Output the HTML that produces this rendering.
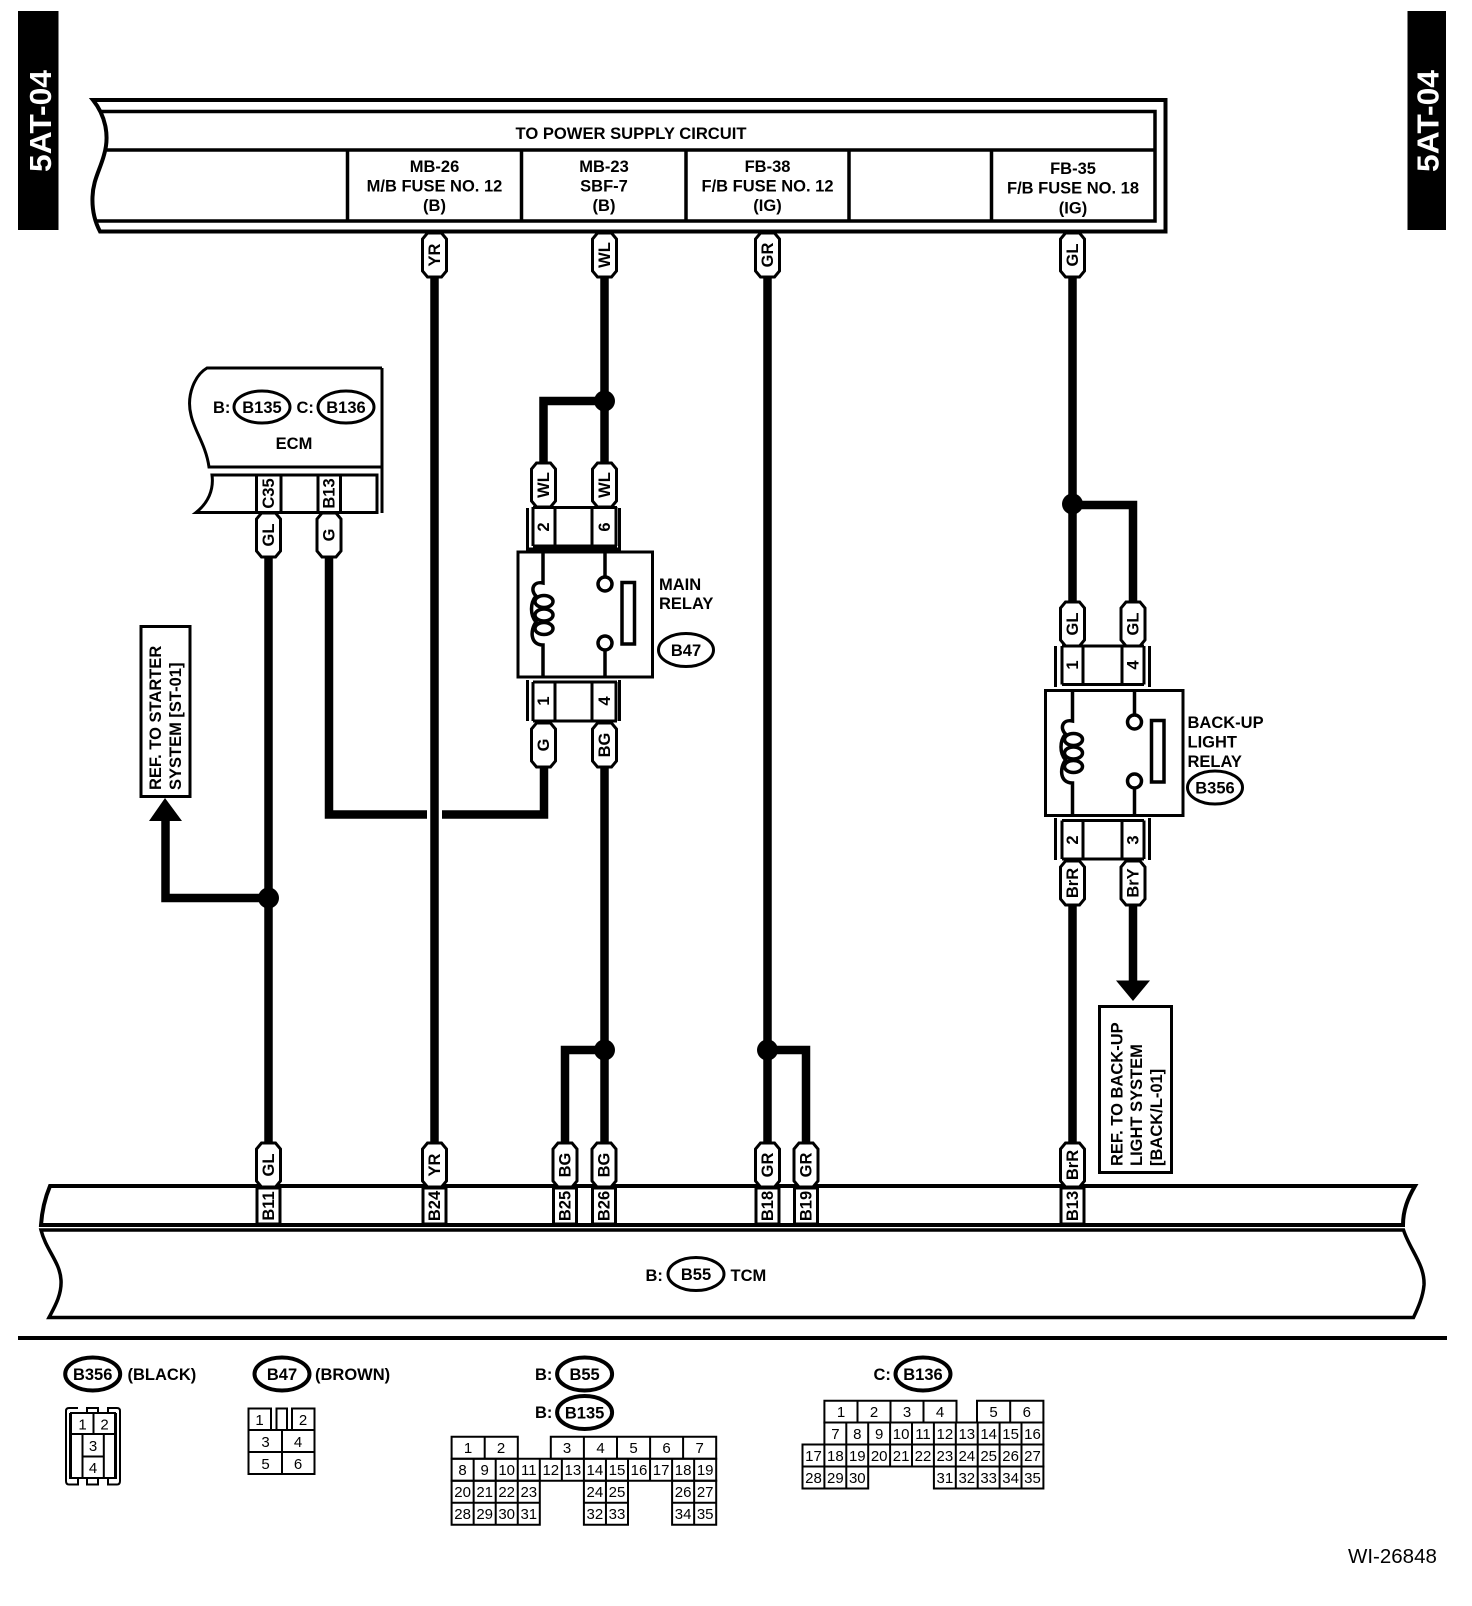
<!DOCTYPE html>
<html><head><meta charset="utf-8">
<style>
html,body{margin:0;padding:0;background:#fff}
svg{display:block}
text{font-family:"Liberation Sans",sans-serif;fill:#000}
.b{font-weight:bold;font-size:16.5px}
.m{text-anchor:middle}
.n{font-size:15px;text-anchor:middle}
.l{fill:none;stroke:#000;stroke-width:3}
.w{fill:none;stroke:#000;stroke-width:8.5}
.g{fill:none;stroke:#000;stroke-width:2}
</style></head><body>
<svg xmlns="http://www.w3.org/2000/svg" width="1472" height="1606" viewBox="0 0 1472 1606">
<defs>
<path id="p" d="M-7,0H7L12,6V38L7,44H-7L-12,38V6Z" fill="#fff" stroke="#000" stroke-width="3"/>
<g id="coil" fill="none" stroke="#000" stroke-width="3.5">
<path d="M543,553V583C533,581 530,590 536,596C530,603 530,615 536,622C530,630 530,645 543,645V678"/>
<ellipse cx="544" cy="601.5" rx="9" ry="6" fill="#fff"/><ellipse cx="544" cy="615" rx="9" ry="6" fill="#fff"/><ellipse cx="544" cy="628.5" rx="9" ry="6" fill="#fff"/>
<path d="M605,553V576M605,651V678"/>
<ellipse cx="605" cy="584" rx="7" ry="7"/><ellipse cx="605" cy="643" rx="7" ry="7"/>
<rect x="622" y="582.5" width="12.5" height="61.5"/>
</g>
</defs>

<!-- side tabs -->
<rect x="18" y="11" width="40.5" height="219"/>
<text transform="translate(51,172) rotate(-90)" font-size="31" font-weight="bold" textLength="102" lengthAdjust="spacingAndGlyphs" style="fill:#fff">5AT-04</text>
<rect x="1407.5" y="11" width="38.5" height="219"/>
<text transform="translate(1438.5,172) rotate(-90)" font-size="31" font-weight="bold" textLength="102" lengthAdjust="spacingAndGlyphs" style="fill:#fff">5AT-04</text>

<!-- power supply box -->
<path d="M93,100H1165.5V231.5H100C95,222 92,210 92.5,197C93,180 100,170 104,155C110,135 105,115 93,100Z" fill="none" stroke="#000" stroke-width="4"/>
<path d="M101,111.5H1155V221H96M107,150H1155M347.5,150V221M521.5,150V221M686,150V221M849,150V221M991.5,150V221" fill="none" stroke="#000" stroke-width="3.5"/>
<text class="b m" x="631" y="139" textLength="231" lengthAdjust="spacingAndGlyphs">TO POWER SUPPLY CIRCUIT</text>
<text class="b m" x="434.5" y="172">MB-26</text><text class="b m" x="434.5" y="191.5">M/B FUSE NO. 12</text><text class="b m" x="434.5" y="211">(B)</text>
<text class="b m" x="604" y="172">MB-23</text><text class="b m" x="604" y="191.5">SBF-7</text><text class="b m" x="604" y="211">(B)</text>
<text class="b m" x="767.5" y="172">FB-38</text><text class="b m" x="767.5" y="191.5">F/B FUSE NO. 12</text><text class="b m" x="767.5" y="211">(IG)</text>
<text class="b m" x="1073" y="174">FB-35</text><text class="b m" x="1073" y="193.5">F/B FUSE NO. 18</text><text class="b m" x="1073" y="213.5">(IG)</text>

<!-- wires -->
<path class="w" d="M434.5,277V1143M604.5,277V463M604.5,766V1143M604.5,401H543.5V463M767.5,277V1143M767.5,1050H806V1143M565,1143V1050H604.5M1072.5,277V602M1072.5,505H1133V602M1072.5,905V1143M1133,905V982M268.5,557V1143M268.5,898H165.5V820M329,557V814.5H427M442,814.5H544V766"/>
<circle cx="604.5" cy="401" r="10.5"/><circle cx="1072.5" cy="504" r="10.5"/><circle cx="268.5" cy="898" r="10.5"/><circle cx="604.5" cy="1050" r="10.5"/><circle cx="767.5" cy="1050" r="10.5"/>
<path d="M165,798L182,821H149Z"/><path d="M1116,980.5H1150L1133,1001Z"/>

<!-- ECM -->
<path class="l" d="M382,368H207C195,375 186,395 191,415C194,430 206,445 209,467H382M382,368V513"/>
<path class="l" d="M196,512.5H377V475H212C214,490 208,503 196,512.5Z"/>
<path class="l" d="M256.5,475V512M281,475V512M318,475V512M340.5,475V512"/>
<text class="b" x="213" y="413">B:</text><text class="b" x="296.5" y="413">C:</text>
<ellipse class="l" cx="262" cy="407" rx="28" ry="16"/><text class="b m" x="262" y="413">B135</text>
<ellipse class="l" cx="346" cy="407" rx="28" ry="16"/><text class="b m" x="346" y="413">B136</text>
<text class="b m" x="294" y="449">ECM</text>
<text class="b m" transform="translate(268.5,493.5) rotate(-90)" dy="5.5">C35</text>
<text class="b m" transform="translate(329,493.5) rotate(-90)" dy="5.5">B13</text>

<!-- Ref boxes -->
<rect class="l" x="141" y="626.5" width="49" height="170" stroke-width="3.5"/>
<text class="b" transform="translate(161,790) rotate(-90)">REF. TO STARTER</text>
<text class="b" transform="translate(181,790) rotate(-90)">SYSTEM [ST-01]</text>
<rect class="l" x="1099.5" y="1006.5" width="72" height="166"/>
<text class="b" transform="translate(1122.5,1166) rotate(-90)">REF. TO BACK-UP</text>
<text class="b" transform="translate(1142,1166) rotate(-90)">LIGHT SYSTEM</text>
<text class="b" transform="translate(1162,1166) rotate(-90)">[BACK/L-01]</text>

<!-- Main relay -->
<rect class="l" x="518" y="552" width="134.5" height="125" stroke-width="3.5"/>
<use href="#coil"/>
<path class="l" d="M527.5,508V549H619.5V508M533,507.5H617M533,546H617M533,507V546M555,507V546M592,507V546M616,507V546"/>
<path class="l" d="M527.5,680V721M619.5,680V721M533,682H617M533,721H617M533,682V721M555,682V721M592,682V721M616,682V721"/>
<text class="b m" transform="translate(543.5,527) rotate(-90)" dy="5.5">2</text>
<text class="b m" transform="translate(604.5,527) rotate(-90)" dy="5.5">6</text>
<text class="b m" transform="translate(543.5,701) rotate(-90)" dy="5.5">1</text>
<text class="b m" transform="translate(604.5,701) rotate(-90)" dy="5.5">4</text>
<text class="b" x="659" y="590">MAIN</text><text class="b" x="659" y="609">RELAY</text>
<ellipse class="l" cx="686" cy="650" rx="27.5" ry="16.5"/><text class="b m" x="686" y="656">B47</text>

<!-- Back-up relay -->
<rect class="l" x="1045.5" y="690.5" width="137.5" height="125" stroke-width="3"/>
<use href="#coil" x="529.5" y="138"/>
<path class="l" d="M1055.5,646V687M1149.5,646V687M1062,646H1144M1062,684.5H1144M1062,646V684.5M1083,646V684.5M1122,646V684.5M1144,646V684.5"/>
<path class="l" d="M1055.5,818V860M1149.5,818V860M1062,820.5H1144M1062,859H1144M1062,820.5V859M1083,820.5V859M1122,820.5V859M1144,820.5V859"/>
<text class="b m" transform="translate(1072.5,665) rotate(-90)" dy="5.5">1</text>
<text class="b m" transform="translate(1133,665) rotate(-90)" dy="5.5">4</text>
<text class="b m" transform="translate(1072.5,840) rotate(-90)" dy="5.5">2</text>
<text class="b m" transform="translate(1133,840) rotate(-90)" dy="5.5">3</text>
<text class="b" x="1187.5" y="728">BACK-UP</text><text class="b" x="1187.5" y="747.5">LIGHT</text><text class="b" x="1187.5" y="767">RELAY</text>
<ellipse class="l" cx="1215" cy="787.5" rx="27.5" ry="16.5"/><text class="b m" x="1215" y="793.5">B356</text>

<!-- TCM bar -->
<path fill="none" stroke="#000" stroke-width="4" d="M50,1186H1415C1408,1198 1403,1210 1403,1225H41C42,1210 45,1198 50,1186Z"/>
<path fill="none" stroke="#000" stroke-width="3.5" d="M41,1230H1403.5C1410,1250 1425,1265 1424,1285C1423,1297 1418,1308 1413.5,1317.5H49C54,1308 62,1295 61,1280C60,1262 46,1250 41,1230Z"/>
<g fill="#fff" stroke="#000" stroke-width="3">
<rect x="257" y="1188" width="23" height="36"/><rect x="423" y="1188" width="23" height="36"/><rect x="553.5" y="1188" width="23" height="36"/><rect x="592.5" y="1188" width="23" height="36"/><rect x="756" y="1188" width="23" height="36"/><rect x="794.5" y="1188" width="23" height="36"/><rect x="1061" y="1188" width="23" height="36"/>
</g>
<text class="b m" transform="translate(268.5,1206) rotate(-90)" dy="5.5">B11</text>
<text class="b m" transform="translate(434.5,1206) rotate(-90)" dy="5.5">B24</text>
<text class="b m" transform="translate(565,1206) rotate(-90)" dy="5.5">B25</text>
<text class="b m" transform="translate(604,1206) rotate(-90)" dy="5.5">B26</text>
<text class="b m" transform="translate(767.5,1206) rotate(-90)" dy="5.5">B18</text>
<text class="b m" transform="translate(806,1206) rotate(-90)" dy="5.5">B19</text>
<text class="b m" transform="translate(1072.5,1206) rotate(-90)" dy="5.5">B13</text>
<text class="b" x="645.5" y="1281">B:</text>
<ellipse class="l" cx="696" cy="1274" rx="28" ry="16.5"/><text class="b m" x="696" y="1280">B55</text>
<text class="b" x="730.5" y="1281">TCM</text>
<rect x="18" y="1336" width="1429" height="4"/>

<!-- wire pills -->
<use href="#p" x="434.5" y="233"/><use href="#p" x="604.5" y="233"/><use href="#p" x="767.5" y="233"/><use href="#p" x="1072.5" y="233"/>
<use href="#p" x="268.5" y="513"/><use href="#p" x="329" y="513"/>
<use href="#p" x="543.5" y="463"/><use href="#p" x="604.5" y="463"/><use href="#p" x="543.5" y="723"/><use href="#p" x="604.5" y="723"/>
<use href="#p" x="1072.5" y="602"/><use href="#p" x="1133" y="602"/><use href="#p" x="1072.5" y="861"/><use href="#p" x="1133" y="861"/>
<use href="#p" x="268.5" y="1143"/><use href="#p" x="434.5" y="1143"/><use href="#p" x="565" y="1143"/><use href="#p" x="604" y="1143"/><use href="#p" x="767.5" y="1143"/><use href="#p" x="806" y="1143"/><use href="#p" x="1072.5" y="1143"/>
<g class="b">
<text class="b m" transform="translate(434.5,255) rotate(-90)" dy="5.5">YR</text>
<text class="b m" transform="translate(604.5,255) rotate(-90)" dy="5.5">WL</text>
<text class="b m" transform="translate(767.5,255) rotate(-90)" dy="5.5">GR</text>
<text class="b m" transform="translate(1072.5,255) rotate(-90)" dy="5.5">GL</text>
<text class="b m" transform="translate(268.5,535) rotate(-90)" dy="5.5">GL</text>
<text class="b m" transform="translate(329,535) rotate(-90)" dy="5.5">G</text>
<text class="b m" transform="translate(543.5,485) rotate(-90)" dy="5.5">WL</text>
<text class="b m" transform="translate(604.5,485) rotate(-90)" dy="5.5">WL</text>
<text class="b m" transform="translate(543.5,745) rotate(-90)" dy="5.5">G</text>
<text class="b m" transform="translate(604.5,745) rotate(-90)" dy="5.5">BG</text>
<text class="b m" transform="translate(1072.5,624) rotate(-90)" dy="5.5">GL</text>
<text class="b m" transform="translate(1133,624) rotate(-90)" dy="5.5">GL</text>
<text class="b m" transform="translate(1072.5,883) rotate(-90)" dy="5.5">BrR</text>
<text class="b m" transform="translate(1133,883) rotate(-90)" dy="5.5">BrY</text>
<text class="b m" transform="translate(268.5,1165) rotate(-90)" dy="5.5">GL</text>
<text class="b m" transform="translate(434.5,1165) rotate(-90)" dy="5.5">YR</text>
<text class="b m" transform="translate(565,1165) rotate(-90)" dy="5.5">BG</text>
<text class="b m" transform="translate(604,1165) rotate(-90)" dy="5.5">BG</text>
<text class="b m" transform="translate(767.5,1165) rotate(-90)" dy="5.5">GR</text>
<text class="b m" transform="translate(806,1165) rotate(-90)" dy="5.5">GR</text>
<text class="b m" transform="translate(1072.5,1165) rotate(-90)" dy="5.5">BrR</text>
</g>

<!-- Legend -->
<ellipse class="l" cx="92.7" cy="1374" rx="27.5" ry="16.5" style="stroke-width:4"/><text class="b m" x="92.7" y="1380">B356</text>
<text class="b" x="127.5" y="1380">(BLACK)</text>
<ellipse class="l" cx="282" cy="1374" rx="27.5" ry="16.5" style="stroke-width:4"/><text class="b m" x="282" y="1380">B47</text>
<text class="b" x="315" y="1380">(BROWN)</text>
<text class="b" x="535" y="1380">B:</text>
<ellipse class="l" cx="584.6" cy="1374" rx="27.5" ry="16.5" style="stroke-width:4"/><text class="b m" x="584.6" y="1380">B55</text>
<text class="b" x="535" y="1418">B:</text>
<ellipse class="l" cx="584.6" cy="1412.5" rx="27.5" ry="16.5" style="stroke-width:4"/><text class="b m" x="584.6" y="1418.5">B135</text>
<text class="b" x="873.5" y="1380">C:</text>
<ellipse class="l" cx="923" cy="1374" rx="27.5" ry="16.5" style="stroke-width:4"/><text class="b m" x="923" y="1380">B136</text>

<!-- B356 connector -->
<path class="g" d="M78,1408H69Q66,1408 66,1411V1481Q66,1484.5 69,1484.5H78V1479M87,1479V1484.5H98V1479M108,1479V1484.5H117Q120,1484.5 120,1481V1411Q120,1408 117,1408H108V1413M98,1413V1408H87V1413M70,1413V1479M116,1413V1479"/>
<path class="g" d="M71,1413H115V1478H71ZM71,1434H115M93.5,1413V1434M82.5,1434V1478M103.8,1434V1478M82.5,1456.5H103.8"/>
<text class="n" x="82.5" y="1429.5">1</text><text class="n" x="104.5" y="1429.5">2</text><text class="n" x="93" y="1451">3</text><text class="n" x="93" y="1473">4</text>

<!-- B47 connector -->
<path class="g" d="M248.5,1408.5H271V1430H248.5ZM276.5,1408.5H287V1430H276.5ZM292,1408.5H314.5V1430H292ZM248.5,1430H314.5V1474H248.5ZM248.5,1452H314.5M282,1430V1474"/>
<text class="n" x="259.5" y="1425">1</text><text class="n" x="303" y="1425">2</text><text class="n" x="265.5" y="1447">3</text><text class="n" x="298" y="1447">4</text><text class="n" x="265.5" y="1469">5</text><text class="n" x="298" y="1469">6</text>

<!-- B55/B135 grid -->
<path class="g" d="M451.6,1436.7H517.8V1458.7H451.6ZM484.7,1436.7V1458.7M550.8,1436.7H716.2V1458.7H550.8ZM583.9,1436.7V1458.7M617,1436.7V1458.7M650.1,1436.7V1458.7M683.1,1436.7V1458.7"/>
<path class="g" d="M451.6,1458.7H716.2V1480.7H451.6ZM473.65,1458.7V1480.7M495.7,1458.7V1480.7M517.75,1458.7V1480.7M539.8,1458.7V1480.7M561.85,1458.7V1480.7M583.9,1458.7V1480.7M605.95,1458.7V1480.7M628,1458.7V1480.7M650.05,1458.7V1480.7M672.1,1458.7V1480.7M694.15,1458.7V1480.7"/>
<path class="g" d="M451.6,1480.7H539.8V1524.7H451.6ZM451.6,1502.7H539.8M473.65,1480.7V1524.7M495.7,1480.7V1524.7M517.75,1480.7V1524.7M583.9,1480.7H628V1524.7H583.9ZM583.9,1502.7H628M605.95,1480.7V1524.7M672.1,1480.7H716.2V1524.7H672.1ZM672.1,1502.7H716.2M694.15,1480.7V1524.7"/>
<g class="n">
<text class="n" x="468" y="1453">1</text><text class="n" x="501" y="1453">2</text><text class="n" x="567" y="1453">3</text><text class="n" x="600.5" y="1453">4</text><text class="n" x="633.5" y="1453">5</text><text class="n" x="666.5" y="1453">6</text><text class="n" x="699.7" y="1453">7</text>
<text class="n" x="462.6" y="1475">8</text><text class="n" x="484.7" y="1475">9</text><text class="n" x="506.7" y="1475">10</text><text class="n" x="528.8" y="1475">11</text><text class="n" x="550.8" y="1475">12</text><text class="n" x="572.9" y="1475">13</text><text class="n" x="594.9" y="1475">14</text><text class="n" x="617" y="1475">15</text><text class="n" x="639" y="1475">16</text><text class="n" x="661.1" y="1475">17</text><text class="n" x="683.1" y="1475">18</text><text class="n" x="705.2" y="1475">19</text>
<text class="n" x="462.6" y="1497">20</text><text class="n" x="484.7" y="1497">21</text><text class="n" x="506.7" y="1497">22</text><text class="n" x="528.8" y="1497">23</text><text class="n" x="594.9" y="1497">24</text><text class="n" x="617" y="1497">25</text><text class="n" x="683.1" y="1497">26</text><text class="n" x="705.2" y="1497">27</text>
<text class="n" x="462.6" y="1519">28</text><text class="n" x="484.7" y="1519">29</text><text class="n" x="506.7" y="1519">30</text><text class="n" x="528.8" y="1519">31</text><text class="n" x="594.9" y="1519">32</text><text class="n" x="617" y="1519">33</text><text class="n" x="683.1" y="1519">34</text><text class="n" x="705.2" y="1519">35</text>
</g>

<!-- B136 grid -->
<path class="g" d="M824.4,1400.7H956.5V1422.5H824.4ZM857.5,1400.7V1422.5M890.5,1400.7V1422.5M923.5,1400.7V1422.5M977,1400.7H1043.4V1422.5H977ZM1010.2,1400.7V1422.5"/>
<path class="g" d="M824.4,1422.5H1043.4V1444.5H824.4ZM846.3,1422.5V1444.5M868.2,1422.5V1444.5M890.1,1422.5V1444.5M912,1422.5V1444.5M933.9,1422.5V1444.5M955.8,1422.5V1444.5M977.7,1422.5V1444.5M999.6,1422.5V1444.5M1021.5,1422.5V1444.5"/>
<path class="g" d="M802.5,1444.5H1043.4V1466.5H802.5ZM824.4,1444.5V1466.5M846.3,1444.5V1466.5M868.2,1444.5V1466.5M890.1,1444.5V1466.5M912,1444.5V1466.5M933.9,1444.5V1466.5M955.8,1444.5V1466.5M977.7,1444.5V1466.5M999.6,1444.5V1466.5M1021.5,1444.5V1466.5"/>
<path class="g" d="M802.5,1466.5H868.2V1488.5H802.5ZM824.4,1466.5V1488.5M846.3,1466.5V1488.5M933.9,1466.5H1043.4V1488.5H933.9ZM955.8,1466.5V1488.5M977.7,1466.5V1488.5M999.6,1466.5V1488.5M1021.5,1466.5V1488.5"/>
<text class="n" x="841" y="1417">1</text><text class="n" x="874" y="1417">2</text><text class="n" x="907" y="1417">3</text><text class="n" x="940" y="1417">4</text><text class="n" x="993.6" y="1417">5</text><text class="n" x="1026.8" y="1417">6</text>
<text class="n" x="835.4" y="1439">7</text><text class="n" x="857.3" y="1439">8</text><text class="n" x="879.2" y="1439">9</text><text class="n" x="901.1" y="1439">10</text><text class="n" x="923" y="1439">11</text><text class="n" x="944.9" y="1439">12</text><text class="n" x="966.8" y="1439">13</text><text class="n" x="988.7" y="1439">14</text><text class="n" x="1010.6" y="1439">15</text><text class="n" x="1032.5" y="1439">16</text>
<text class="n" x="813.5" y="1461">17</text><text class="n" x="835.4" y="1461">18</text><text class="n" x="857.3" y="1461">19</text><text class="n" x="879.2" y="1461">20</text><text class="n" x="901.1" y="1461">21</text><text class="n" x="923" y="1461">22</text><text class="n" x="944.9" y="1461">23</text><text class="n" x="966.8" y="1461">24</text><text class="n" x="988.7" y="1461">25</text><text class="n" x="1010.6" y="1461">26</text><text class="n" x="1032.5" y="1461">27</text>
<text class="n" x="813.5" y="1483">28</text><text class="n" x="835.4" y="1483">29</text><text class="n" x="857.3" y="1483">30</text><text class="n" x="944.9" y="1483">31</text><text class="n" x="966.8" y="1483">32</text><text class="n" x="988.7" y="1483">33</text><text class="n" x="1010.6" y="1483">34</text><text class="n" x="1032.5" y="1483">35</text>

<text x="1348" y="1563" font-size="20.5">WI-26848</text>
</svg>
</body></html>
